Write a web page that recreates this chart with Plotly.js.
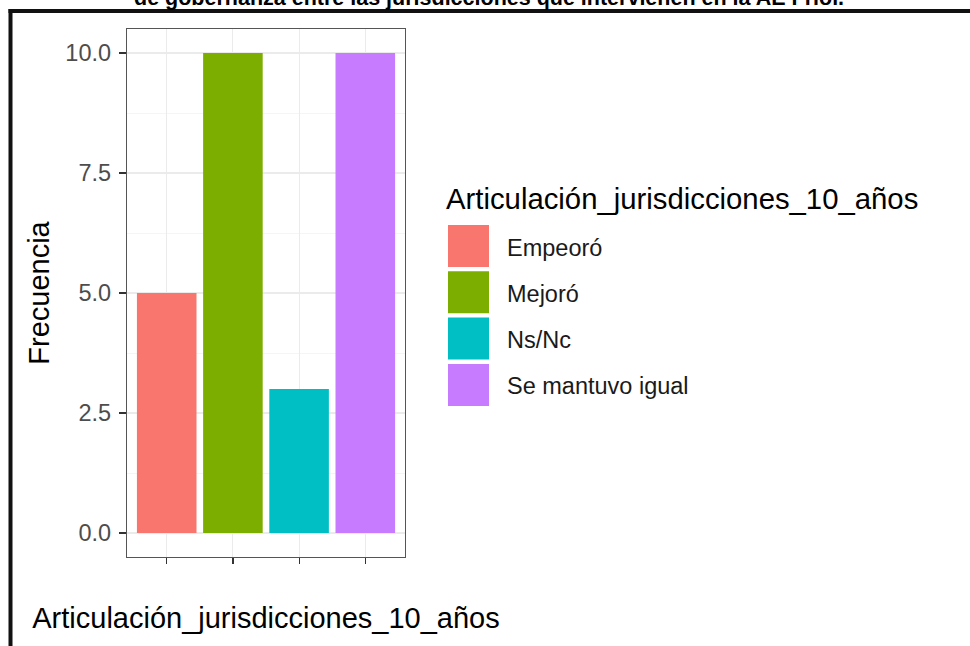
<!DOCTYPE html>
<html>
<head>
<meta charset="utf-8">
<script src="https://cdn.plot.ly/plotly-3.0.1.min.js"></script>
<style>
  html, body { margin: 0; padding: 0; background: #ffffff; }
  #chart { width: 970px; height: 646px; }
</style>
</head>
<body>
<div id="chart"></div>
<script>
// ---- Data ----
const categories = ['Empeoró', 'Mejoró', 'Ns/Nc', 'Se mantuvo igual'];
const frecuencia = [5, 10, 3, 10];
const barColors = ['#F8766D', '#7CAE00', '#00BFC4', '#C77CFF'];
const yTickVals = [0, 2.5, 5, 7.5, 10];
const yTickText = ['0.0', '2.5', '5.0', '7.5', '10.0'];
const axisTitle = 'Articulación_jurisdicciones_10_años';
const yTitle = 'Frecuencia';
const topTitle = 'de gobernanza entre las jurisdicciones que intervienen en la AE Friol.';

// ---- Geometry helpers (plot area in px) ----
const W = 970, H = 646;
const mL = 127, mR = 565, mT = 29, mB = 89;
const pw = W - mL - mR, ph = H - mT - mB;
const px2x = px => (px - mL) / pw;
const py2y = py => (H - mB - py) / ph;

const FONT = '"Liberation Sans", Arial, sans-serif';

const trace = {
  type: 'bar',
  x: categories,
  y: frecuencia,
  width: 0.9,
  marker: { color: barColors, line: { width: 0 } },
  hoverinfo: 'x+y',
  showlegend: false
};

// ---- Legend built from the category / colour arrays ----
const shapes = [];
const annotations = [];
const keyLeft = 448, keyRight = 489, keyTop0 = 225, keyH = 42, keyPitch = 46.3;
categories.forEach((c, i) => {
  const top = keyTop0 + i * keyPitch;
  shapes.push({
    type: 'rect', xref: 'paper', yref: 'paper',
    x0: px2x(keyLeft), x1: px2x(keyRight),
    y0: py2y(top + keyH), y1: py2y(top),
    fillcolor: barColors[i], line: { width: 0 }
  });
  annotations.push({
    xref: 'paper', yref: 'paper',
    x: px2x(505), y: py2y(top + keyH / 2 + 1.5),
    xanchor: 'left', yanchor: 'middle',
    text: c, showarrow: false,
    font: { family: FONT, size: 23.5, color: '#1a1a1a' }
  });
});
annotations.push({
  xref: 'paper', yref: 'paper',
  x: px2x(444), y: py2y(198),
  xanchor: 'left', yanchor: 'middle',
  text: axisTitle, showarrow: false,
  font: { family: FONT, size: 29.3, color: '#000000' }
});
// cropped figure caption at top
annotations.push({
  xref: 'paper', yref: 'paper',
  x: px2x(489), y: py2y(-2.5),
  xanchor: 'center', yanchor: 'middle',
  text: '<b>' + topTitle + '</b>', showarrow: false,
  font: { family: FONT, size: 21.5, color: '#000000' }
});

// outer black frame (left and top edges)
shapes.push({
  type: 'line', xref: 'paper', yref: 'paper',
  x0: px2x(10.5), x1: px2x(10.5), y0: py2y(9), y1: py2y(660),
  line: { color: '#111111', width: 4 }
});
shapes.push({
  type: 'line', xref: 'paper', yref: 'paper',
  x0: px2x(8.5), x1: px2x(980), y0: py2y(11), y1: py2y(11),
  line: { color: '#111111', width: 4 }
});

const layout = {
  width: W, height: H,
  margin: { l: mL, r: mR, t: mT, b: mB, pad: 0 },
  paper_bgcolor: '#ffffff',
  plot_bgcolor: '#ffffff',
  font: { family: FONT, color: '#4d4d4d' },
  showlegend: false,
  bargap: 0.1,
  xaxis: {
    type: 'category',
    categoryorder: 'array',
    categoryarray: categories,
    range: [-0.6, 3.6],
    showticklabels: false,
    ticks: 'outside', ticklen: 6, tickwidth: 1.2, tickcolor: '#333333',
    showgrid: true, gridcolor: '#ebebeb', gridwidth: 1.1,
    showline: true, linecolor: '#555555', linewidth: 1.2, mirror: true,
    zeroline: false,
    automargin: true,
    title: {
      text: axisTitle,
      standoff: 44,
      font: { family: FONT, size: 29, color: '#000000' }
    }
  },
  yaxis: {
    range: [-0.5, 10.5],
    tickvals: yTickVals,
    ticktext: yTickText,
    ticks: 'outside', ticklen: 7, tickwidth: 1.2, tickcolor: '#333333',
    ticklabelstandoff: 3,
    tickfont: { family: FONT, size: 23.5, color: '#4d4d4d' },
    showgrid: true, gridcolor: '#ebebeb', gridwidth: 1.1,
    minor: { dtick: 1.25, tick0: 0, showgrid: true, gridcolor: '#f3f3f3', gridwidth: 0.8, ticks: '' },
    showline: true, linecolor: '#555555', linewidth: 1.2, mirror: true,
    zeroline: false,
    automargin: true,
    title: {
      text: yTitle,
      standoff: 7,
      font: { family: FONT, size: 29, color: '#000000' }
    }
  },
  shapes: shapes,
  annotations: annotations
};

Plotly.newPlot('chart', [trace], layout, { displayModeBar: false, staticPlot: true });
</script>
</body>
</html>
